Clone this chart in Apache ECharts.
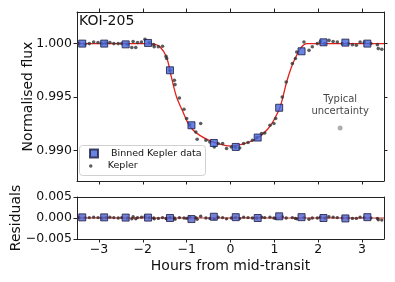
<!DOCTYPE html>
<html><head><meta charset="utf-8">
<script src="https://cdn.jsdelivr.net/npm/echarts@6/dist/echarts.min.js"></script>
<style>html,body{margin:0;padding:0;background:#fff}#c{width:395px;height:282px}</style>
</head><body><div id="c"></div>
<script>
// ---- data ----
const xTicks = [-3, -2, -1, 0, 1, 2, 3];
const fluxTicks = [0.990, 0.995, 1.000];
const residTicks = [-0.005, 0, 0.005];

const binX = [-3.38, -2.88, -2.39, -1.88, -1.38, -0.89, -0.38, 0.12, 0.62, 1.11, 1.62, 2.12, 2.62, 3.12];
const binFlux = [1.0000, 1.0000, 0.99993, 1.00006, 0.99750, 0.99235, 0.99069, 0.99032, 0.99120, 0.99399, 0.99928, 1.00012, 1.00009, 1.0000];
const binResid = [0.00015, 0.00015, 0.0001, 0.0001, 0.0, -0.00025, 0.0003, 0.0002, 0.0, 0.0004, 0.0002, 0.0, -0.0001, 0.0002];

const keplerX = [-3.45, -3.32, -3.22, -3.12, -3.02, -2.93, -2.84, -2.75, -2.66, -2.56,
  -2.48, -2.35, -2.25, -2.22, -2.16, -2.12, -2.03, -1.95, -1.85, -1.75,
  -1.74, -1.645, -1.55, -1.47, -1.455, -1.38, -1.28, -1.265, -1.165, -1.06,
  -1.00, -0.93, -0.79, -0.76, -0.68, -0.56, -0.47, -0.37, -0.28, -0.18,
  -0.09, 0.02, 0.11, 0.21, 0.30, 0.40, 0.50, 0.60, 0.71, 0.78,
  0.90, 0.99, 1.03, 1.18, 1.27, 1.41, 1.48, 1.51, 1.675, 1.79,
  1.865, 1.98, 2.05, 2.15, 2.245, 2.34, 2.435, 2.55, 2.68, 2.78,
  2.87, 2.955, 3.05, 3.20, 3.35, 3.37, 3.45];
const keplerFlux = [1.00000, 0.99995, 1.00000, 1.00015, 1.00010, 1.00000, 1.00005, 1.00010, 1.00000, 1.00000,
  1.00000, 0.99995, 0.99963, 1.00020, 0.99963, 1.00010, 1.00015, 1.00040, 1.00010, 0.99990,
  0.99970, 0.99970, 0.99975, 0.99880, 0.99860, 0.99750, 0.99656, 0.99616, 0.99491, 0.99385,
  0.99298, 0.99240, 0.99172, 0.99104, 0.99251, 0.99095, 0.99079, 0.99032, 0.99064, 0.99064,
  0.99017, 0.99032, 0.99030, 0.99022, 0.99064, 0.99073, 0.99095, 0.99120, 0.99157, 0.99163,
  0.99235, 0.99251, 0.99298, 0.99500, 0.99640, 0.99813, 0.99860, 0.99921, 1.00015, 0.99937,
  0.99970, 1.00000, 1.00020, 1.00000, 1.00030, 1.00020, 1.00015, 1.00000, 1.00000, 0.99990,
  0.99984, 1.00015, 1.00010, 1.00000, 0.99990, 0.99953, 0.99947];
const keplerResid = [0.0001, 0.00005, 0.0001, 0.0002, 0.0001, 0.0, 0.0001, 0.0002, 0.0001, 0.0,
  0.0001, 0.0, -0.0002, 0.0003, -0.0002, 0.0001, 0.0002, 0.0003, 0.0001, 0.0,
  -0.0002, -0.0001, 0.0001, -0.0001, -0.0002, 0.0001, 0.0, -0.0003, 0.0001, 0.0,
  -0.0001, 0.0002, 0.0001, -0.0003, 0.0004, 0.0, -0.0001, -0.0002, 0.0002, 0.0001,
  -0.0002, 0.0, 0.0001, -0.0001, 0.0002, 0.0001, 0.0, 0.0, 0.0002, 0.0001,
  0.0002, 0.0, -0.0001, 0.0003, 0.0, 0.0001, -0.0001, -0.0002, 0.0001, -0.0003,
  0.0, 0.0, 0.0002, 0.0, 0.0003, 0.0002, 0.0001, 0.0, 0.0, -0.0001,
  -0.0001, 0.0002, 0.0001, 0.0, -0.0001, -0.0004, -0.0005];

const modelX = [-3.5, -2.0, -1.75, -1.62, -1.46, -1.35, -1.23, -1.10, -0.97, -0.85, -0.70, -0.50, -0.25, 0.0,
  0.25, 0.50, 0.70, 0.85, 0.97, 1.13, 1.28, 1.39, 1.49, 1.62, 1.74, 2.0, 3.5];
const modelFlux = [1.0, 1.0, 0.99995, 0.99975, 0.99875, 0.99690, 0.99500, 0.99375, 0.99255, 0.99188, 0.99140, 0.99095, 0.99058, 0.99040,
  0.99055, 0.99090, 0.99140, 0.99200, 0.99270, 0.99406, 0.99640, 0.99781, 0.99875, 0.99968, 1.0, 1.0, 1.0];

const zeroLineX = [-3.5, 3.5];
const zeroLineY = [0, 0];

const uncX = [2.5];
const uncFlux = [0.9921];

const xRange = [-3.5, 3.5];
const fluxRange = [0.98713, 1.00296];
const residRange = [-0.005, 0.005];

// ---- helpers ----
const zip = (a, b) => a.map((v, i) => [v, b[i]]);
const minus = s => String(s).replace('-', '\u2212');
const FONT = 'DejaVu Sans';
const INK = '#111';
const frameLine = { show: true, onZero: false, lineStyle: { color: '#222', width: 1 } };
const tick = vals => ({ show: true, inside: false, length: 3.5, lineStyle: { color: '#222', width: 1 }, customValues: vals });
const noLabel = { show: false };

const chart = echarts.init(document.getElementById('c'), null, { renderer: 'canvas' });
chart.setOption({
  animation: false,
  backgroundColor: '#fff',
  title: {
    text: 'KOI-205', left: 79, top: 14, padding: 0,
    textStyle: { fontFamily: FONT, fontSize: 14, fontWeight: 'normal', color: INK }
  },
  grid: [
    { left: 77, right: 11, top: 12, height: 169, outerBoundsMode: 'none', containLabel: false },
    { left: 77, right: 11, top: 197, height: 42, outerBoundsMode: 'none', containLabel: false }
  ],
  xAxis: [
    { type: 'value', gridIndex: 0, position: 'bottom', min: xRange[0], max: xRange[1],
      axisLine: frameLine, axisTick: tick(xTicks), axisLabel: noLabel, splitLine: { show: false } },
    { type: 'value', gridIndex: 0, position: 'top', min: xRange[0], max: xRange[1],
      axisLine: frameLine, axisTick: tick(xTicks), axisLabel: noLabel, splitLine: { show: false } },
    { type: 'value', gridIndex: 1, position: 'bottom', min: xRange[0], max: xRange[1],
      axisLine: frameLine, axisTick: tick(xTicks),
      axisLabel: { show: true, customValues: xTicks, margin: 4, fontFamily: FONT, fontSize: 12.5, color: INK, formatter: v => minus(v) },
      splitLine: { show: false },
      name: 'Hours from mid-transit', nameLocation: 'middle', nameGap: 20, nameMoveOverlap: false,
      nameTextStyle: { fontFamily: FONT, fontSize: 14, color: INK } },
    { type: 'value', gridIndex: 1, position: 'top', min: xRange[0], max: xRange[1],
      axisLine: frameLine, axisTick: { show: false }, axisLabel: noLabel, splitLine: { show: false } }
  ],
  yAxis: [
    { type: 'value', gridIndex: 0, position: 'left', min: fluxRange[0], max: fluxRange[1],
      axisLine: frameLine, axisTick: tick(fluxTicks),
      axisLabel: { show: true, customValues: fluxTicks, margin: 5, fontFamily: FONT, fontSize: 12.5, color: INK, formatter: v => v.toFixed(3) },
      splitLine: { show: false },
      name: 'Normalised flux', nameLocation: 'middle', nameGap: 42, nameRotate: 90, nameMoveOverlap: false,
      nameTextStyle: { fontFamily: FONT, fontSize: 14, color: INK } },
    { type: 'value', gridIndex: 0, position: 'right', min: fluxRange[0], max: fluxRange[1],
      axisLine: frameLine, axisTick: tick(fluxTicks), axisLabel: noLabel, splitLine: { show: false } },
    { type: 'value', gridIndex: 1, position: 'left', min: residRange[0], max: residRange[1],
      axisLine: frameLine, axisTick: tick(residTicks),
      axisLabel: { show: true, customValues: residTicks, margin: 5, fontFamily: FONT, fontSize: 12.5, color: INK, formatter: v => minus(v.toFixed(3)) },
      splitLine: { show: false },
      name: 'Residuals', nameLocation: 'middle', nameGap: 54, nameRotate: 90, nameMoveOverlap: false,
      nameTextStyle: { fontFamily: FONT, fontSize: 14, color: INK } },
    { type: 'value', gridIndex: 1, position: 'right', min: residRange[0], max: residRange[1],
      axisLine: frameLine, axisTick: { show: false }, axisLabel: noLabel, splitLine: { show: false } }
  ],
  legend: [
    { data: [{ name: 'Binned Kepler data', icon: 'path://M0 0H10V10H0Z' }], left: 89, top: 148.5, padding: 0,
      orient: 'vertical', itemWidth: 24, itemHeight: 8, symbolKeepAspect: true, selectedMode: false, z: 6,
      textStyle: { fontFamily: FONT, fontSize: 9.5, color: INK } },
    { data: [{ name: 'Kepler', icon: 'circle' }], left: 89, top: 161, padding: 0,
      orient: 'vertical', itemWidth: 24, itemHeight: 3.5, symbolKeepAspect: true, selectedMode: false, z: 6,
      textStyle: { fontFamily: FONT, fontSize: 9.5, color: INK } }
  ],
  graphic: [
    { type: 'rect', z: 5, shape: { x: 79.5, y: 145.5, width: 126, height: 30, r: 3 },
      style: { fill: 'rgba(255,255,255,0.85)', stroke: '#d0d0d0', lineWidth: 1 } }
  ],
  series: [
    { name: 'Model', type: 'line', xAxisIndex: 0, yAxisIndex: 0, data: zip(modelX, modelFlux),
      smooth: 0.35, showSymbol: false, symbol: 'none', z: 2,
      lineStyle: { color: '#e3201b', width: 1.3 } },
    { name: 'Kepler', type: 'scatter', xAxisIndex: 0, yAxisIndex: 0, data: zip(keplerX, keplerFlux),
      symbol: 'circle', symbolSize: 3.6, z: 3, itemStyle: { color: '#333333' } },
    { name: 'Binned Kepler data', type: 'scatter', xAxisIndex: 0, yAxisIndex: 0, data: zip(binX, binFlux),
      symbol: 'rect', symbolSize: 7, z: 4,
      itemStyle: { color: '#4466dd', borderColor: '#1a1a40', borderWidth: 1 } },
    { name: 'Typical uncertainty', type: 'scatter', xAxisIndex: 0, yAxisIndex: 0, data: zip(uncX, uncFlux),
      symbol: 'circle', symbolSize: 5, z: 3, itemStyle: { color: '#9a9a9a' },
      label: { show: true, position: 'top', distance: 8, formatter: 'Typical\nuncertainty',
        fontFamily: FONT, fontSize: 10, lineHeight: 12, color: INK, align: 'center' } },
    { name: 'Zero', type: 'line', xAxisIndex: 2, yAxisIndex: 2, data: zip(zeroLineX, zeroLineY),
      showSymbol: false, symbol: 'none', z: 2, lineStyle: { color: '#b83030', width: 1 } },
    { name: 'Kepler residuals', type: 'scatter', xAxisIndex: 2, yAxisIndex: 2, data: zip(keplerX, keplerResid),
      symbol: 'circle', symbolSize: 3.4, z: 3, itemStyle: { color: '#3a2020' } },
    { name: 'Binned residuals', type: 'scatter', xAxisIndex: 2, yAxisIndex: 2, data: zip(binX, binResid),
      symbol: 'rect', symbolSize: 7, z: 4,
      itemStyle: { color: '#5060cc', borderColor: '#1a1a40', borderWidth: 1 } }
  ]
});
</script>
</body></html>
